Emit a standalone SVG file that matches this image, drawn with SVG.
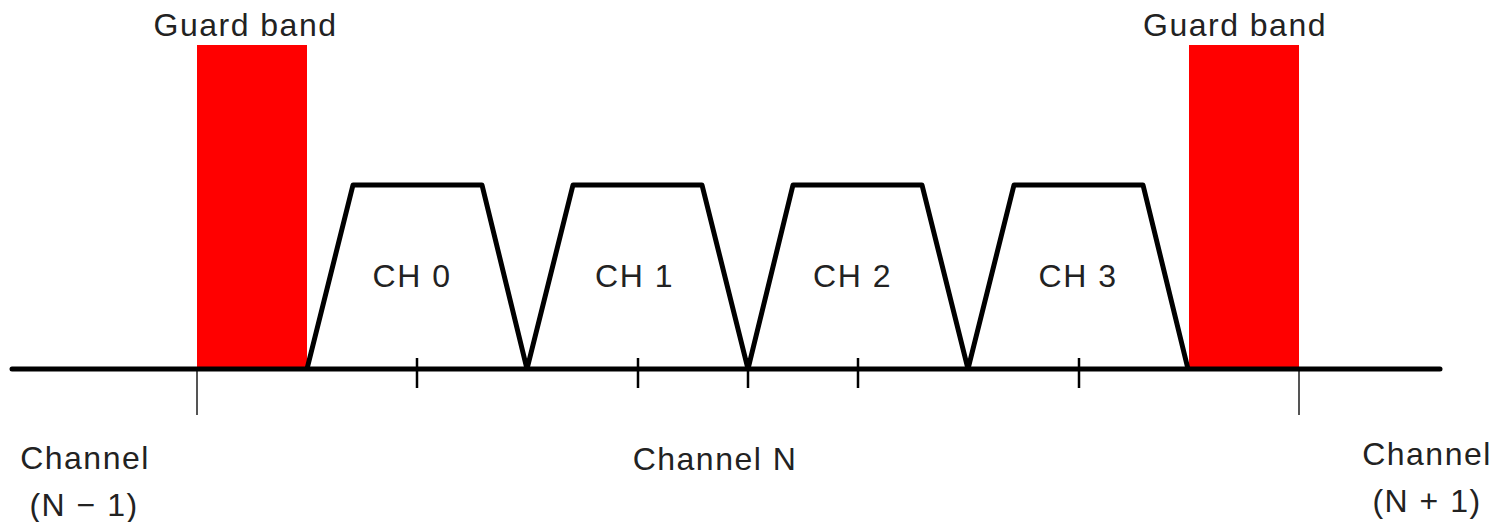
<svg xmlns="http://www.w3.org/2000/svg" width="1497" height="522" viewBox="0 0 1497 522">
<style>
.t{font-family:"Liberation Sans",Arial,"Noto Sans CJK JP",sans-serif;font-size:32px;letter-spacing:1.5px;fill:#222;text-anchor:middle}
.trap{fill:none;stroke:#000;stroke-width:5;stroke-linejoin:round}
.tick{stroke:#000;stroke-width:2.5}
.gtick{stroke:#555;stroke-width:2}
.guard{fill:#ff0000}
</style>
<rect width="1497" height="522" fill="#fff"/>
<g id="guard-left">
<rect class="guard" x="197" y="45" width="110" height="324"/>
<text class="t" x="245.5" y="36">Guard band</text>
</g>
<g id="guard-right">
<rect class="guard" x="1189" y="45" width="110" height="324"/>
<text class="t" x="1235" y="36">Guard band</text>
</g>
<g id="axis">
<line x1="197" y1="369" x2="197" y2="415" class="gtick"/>
<line x1="1299" y1="369" x2="1299" y2="415" class="gtick"/>
<line x1="417" y1="358" x2="417" y2="388" class="tick"/>
<line x1="638" y1="358" x2="638" y2="388" class="tick"/>
<line x1="748" y1="358" x2="748" y2="388" class="tick"/>
<line x1="858" y1="358" x2="858" y2="388" class="tick"/>
<line x1="1079" y1="358" x2="1079" y2="388" class="tick"/>
<line x1="12" y1="369" x2="1440" y2="369" stroke="#000" stroke-width="5" stroke-linecap="round"/>
</g>
<g id="ch0">
<polyline class="trap" points="307,369 353,185 482,185 527,369"/>
<text class="t" x="412" y="287">CH 0</text>
</g>
<g id="ch1">
<polyline class="trap" points="527,369 573,185 702,185 748,369"/>
<text class="t" x="634.5" y="287">CH 1</text>
</g>
<g id="ch2">
<polyline class="trap" points="748,369 793,185 922,185 968,369"/>
<text class="t" x="852.5" y="287">CH 2</text>
</g>
<g id="ch3">
<polyline class="trap" points="968,369 1014,185 1143,185 1188,369"/>
<text class="t" x="1078" y="287">CH 3</text>
</g>
<g id="labels">
<text class="t" x="85" y="469">Channel</text>
<text class="t" x="84" y="516">(N − 1)</text>
<text class="t" x="715" y="470">Channel N</text>
<text class="t" x="1427" y="465">Channel</text>
<text class="t" x="1427" y="512">(N + 1)</text>
</g>
</svg>
